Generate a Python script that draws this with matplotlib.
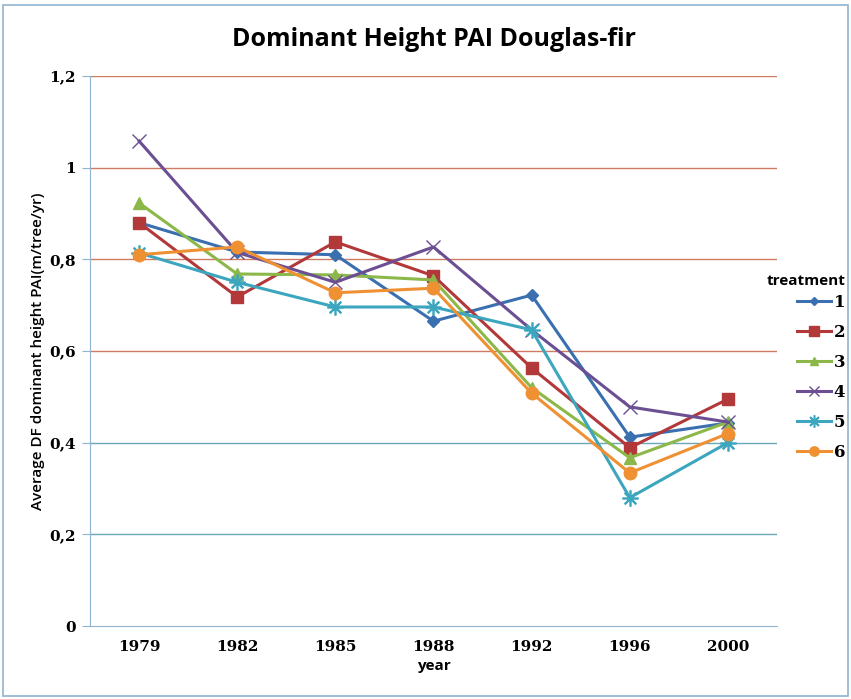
import matplotlib
matplotlib.use("Agg")
import matplotlib.pyplot as plt
from matplotlib.patches import Rectangle

# data
years = ["1979", "1982", "1985", "1988", "1992", "1996", "2000"]
t1 = [0.88, 0.816, 0.81, 0.665, 0.722, 0.412, 0.443]
t2 = [0.88, 0.718, 0.838, 0.764, 0.563, 0.389, 0.495]
t3 = [0.923, 0.768, 0.766, 0.755, 0.52, 0.367, 0.445]
t4 = [1.058, 0.815, 0.75, 0.827, 0.646, 0.478, 0.445]
t5 = [0.814, 0.75, 0.696, 0.696, 0.646, 0.28, 0.40]
t6 = [0.81, 0.827, 0.727, 0.737, 0.508, 0.334, 0.42]
labels = ["1", "2", "3", "4", "5", "6"]
yticks = [0, 0.2, 0.4, 0.6, 0.8, 1.0, 1.2]
ytick_labels = ["0", "0,2", "0,4", "0,6", "0,8", "1", "1,2"]

series = [t1, t2, t3, t4, t5, t6]
colors = ["#3a6fb0", "#b2383a", "#8cb84a", "#6b4f92", "#3ba6be", "#ef9133"]
markers = ["D", "s", "^", "x", "$\u2733$", "o"]
msizes = [6, 9, 8, 10, 11, 9]

serif = "DejaVu Serif"
sans = "Open Sans"

fig = plt.figure(figsize=(8.51, 6.99), dpi=100)
ax = fig.add_axes([0.1058, 0.1044, 0.8072, 0.7869])

# figure border
fig.patches.append(Rectangle((0.004, 0.004), 0.992, 0.989, transform=fig.transFigure,
                             fill=False, edgecolor="#8fb4d0", linewidth=1.2))

x = list(range(len(years)))
for yv in yticks[1:]:
    gc = "#d07a60" if yv > 0.5 else "#6aa8b8"
    ax.axhline(yv, color=gc, linewidth=1, zorder=0)

for s, c, m, ms, lab in zip(series, colors, markers, msizes, labels):
    ax.plot(x, s, color=c, linewidth=2.2, marker=m, markersize=ms,
            markeredgecolor=c, markerfacecolor=c, label=lab, zorder=3)

ax.set_xlim(-0.5, len(years) - 0.5)
ax.set_ylim(0, 1.2)
ax.set_xticks(x)
ax.set_xticklabels(years, fontfamily=serif, fontweight="bold", fontsize=11)
ax.set_yticks(yticks)
ax.set_yticklabels(ytick_labels, fontfamily=serif, fontweight="bold", fontsize=11)
ax.tick_params(axis="x", length=0, pad=10)
ax.tick_params(axis="y", length=6, color="#8fb4d0", pad=4)

for side in ["top", "right"]:
    ax.spines[side].set_visible(False)
for side in ["left", "bottom"]:
    ax.spines[side].set_color("#8fb4d0")

ax.set_xlabel("year", fontfamily=sans, fontweight="bold", fontsize=11, labelpad=4)
ax.set_ylabel("Average DF dominant height PAI(m/tree/yr)", fontfamily=sans,
              fontweight="semibold", fontsize=11, labelpad=3)

fig.text(0.51, 0.943, "Dominant Height PAI Douglas-fir", ha="center", va="center",
         fontfamily=sans, fontweight="bold", fontsize=18)

leg = fig.legend(loc="upper left", bbox_to_anchor=(0.893, 0.617), frameon=False,
                 title="treatment", handlelength=2.0, labelspacing=0.78,
                 handletextpad=0.2, borderaxespad=0, markerscale=0.75,
                 prop={"family": serif, "weight": "bold", "size": 12})
leg.get_title().set_fontfamily(sans)
leg.get_title().set_fontweight("bold")
leg.get_title().set_fontsize(11)
leg._legend_box.align = "right"
leg._legend_box.sep = 4

fig.savefig("out.png", dpi=100)
